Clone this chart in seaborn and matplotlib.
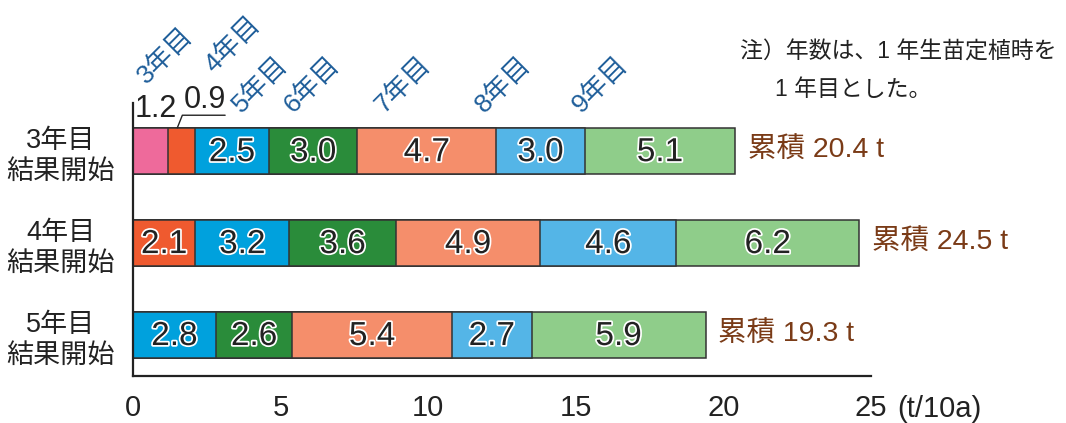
import matplotlib
matplotlib.use("Agg")
import matplotlib.pyplot as plt
import matplotlib.patheffects as pe
import numpy as np
import pandas as pd
import seaborn as sns

# ---- data ----
categories = ["3年目\n結果開始", "4年目\n結果開始", "5年目\n結果開始"]
series_names = ["3年目", "4年目", "5年目", "6年目", "7年目", "8年目", "9年目"]
yield_3y = [1.2, 0.0, 0.0]
yield_4y = [0.9, 2.1, 0.0]
yield_5y = [2.5, 3.2, 2.8]
yield_6y = [3.0, 3.6, 2.6]
yield_7y = [4.7, 4.9, 5.4]
yield_8y = [3.0, 4.6, 2.7]
yield_9y = [5.1, 6.2, 5.9]
totals_text = ["累積 20.4 t", "累積 24.5 t", "累積 19.3 t"]
x_ticks = [0, 5, 10, 15, 20, 25]
note_lines = ["注）年数は、1 年生苗定植時を", "1 年目とした。"]

# ---- style ----
colors = ["#ee6a9b", "#ef5a2f", "#00a1dd", "#2a8c3a", "#f58e6b", "#54b5e7", "#8fcd8a"]
edge = "#333333"
series_label_color = "#1f5e9a"
total_color = "#7a3b17"
series_label_pos = [(1.09, -1.03), (3.39, -1.15), (4.30, -0.72), (6.07, -0.72),
                    (9.16, -0.72), (12.55, -0.72), (15.84, -0.72)]

sns.set_style("white")
plt.rcParams["font.family"] = ["Liberation Sans", "Noto Sans CJK JP", "DejaVu Sans"]

values = np.array([yield_3y, yield_4y, yield_5y, yield_6y, yield_7y, yield_8y, yield_9y])
cum = np.cumsum(values, axis=0)

fig = plt.figure(figsize=(10.66, 4.23), dpi=100)
ax = fig.add_axes([0.1248, 0.111, 0.8171 - 0.1248, 0.7565 - 0.111])

# stacked via overlapping cumulative bars (draw longest first)
for i in range(len(series_names) - 1, -1, -1):
    df = pd.DataFrame({"category": categories, "cum": cum[i]})
    sns.barplot(data=df, x="cum", y="category", order=categories, orient="h",
                color=colors[i], saturation=1, width=0.5, edgecolor=edge,
                linewidth=1.1, errorbar=None, ax=ax)

ax.set_xlim(0, 25)
ax.set_ylim(2.45, -0.52)
ax.set_xticks(x_ticks)
ax.set_xticklabels([str(t) for t in x_ticks])
ax.set_xlabel("")
ax.set_ylabel("")
for s in ["top", "right"]:
    ax.spines[s].set_visible(False)
for s in ["left", "bottom"]:
    ax.spines[s].set_linewidth(1.6)
    ax.spines[s].set_color("#222222")
ax.tick_params(axis="x", direction="in", length=6, width=1.6, color="#222222",
               labelsize=21, pad=13, labelcolor="#222222")
ax.tick_params(axis="y", length=0, labelsize=19.5, pad=13, labelcolor="#222222")
for t in ax.get_yticklabels():
    t.set_multialignment("center")
    t.set_linespacing(1.25)

ax.annotate("(t/10a)", xy=(25.9, -0.122), xycoords=("data", "axes fraction"),
            ha="left", va="center", fontsize=21, color="#222222", annotation_clip=False)

# in-bar value labels
stroke = [pe.withStroke(linewidth=2.5, foreground="white")]
for r in range(len(categories)):
    for i in range(len(series_names)):
        v = values[i, r]
        if v <= 0:
            continue
        if r == 0 and i < 2:
            continue
        xc = cum[i, r] - v / 2
        ax.text(xc, r + 0.02, f"{v:.1f}", ha="center", va="center", fontsize=24,
                color="#222222", path_effects=stroke)
    ax.text(cum[-1, r] + 0.42, r, totals_text[r], ha="left", va="center",
            fontsize=20.5, color=total_color)

# small values above first bar
c0 = cum[0, 0] - values[0, 0] / 2
ax.text(c0 + 0.18, -0.29, f"{values[0, 0]:.1f}", ha="center", va="bottom",
        fontsize=22, color="#222222", clip_on=False)
c1 = cum[1, 0] - values[1, 0] / 2
ax.plot([c1 - 0.15, c1 + 0.02, c1 + 1.47], [-0.25, -0.387, -0.387],
        color="#222222", lw=1.0, clip_on=False)
ax.text(c1 + 0.80, -0.39, f"{values[1, 0]:.1f}", ha="center", va="bottom",
        fontsize=22, color="#222222", clip_on=False)

# series labels (rotated)
for name, (x, y) in zip(series_names, series_label_pos):
    ax.text(x, y, name, rotation=45, ha="center", va="center", rotation_mode="anchor",
            fontsize=19, color=series_label_color, clip_on=False)

fig.text(740 / 1066, 1 - 52 / 423, note_lines[0], ha="left", va="center",
         fontsize=16.5, color="#222222")
fig.text(775 / 1066, 1 - 89 / 423, note_lines[1], ha="left", va="center",
         fontsize=16.5, color="#222222")

fig.savefig("out.png", dpi=100)
